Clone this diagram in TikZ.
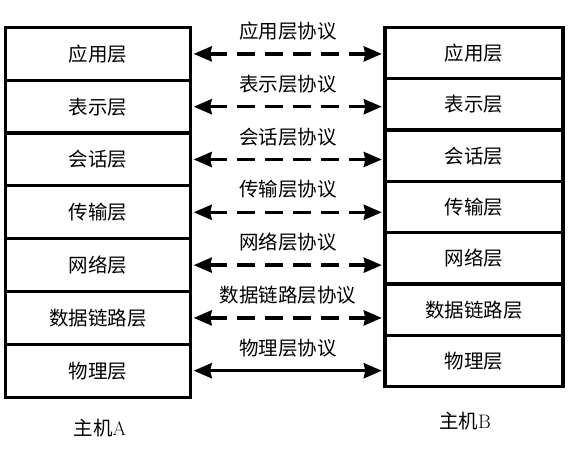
\documentclass[tikz,border=0pt]{standalone}
\usepackage{fontspec}
\newfontfamily\cjk{Noto Sans CJK SC}
\usetikzlibrary{arrows.meta}
\begin{document}
\begin{tikzpicture}[x=1pt,y=-1pt,
  lbox/.style={draw, line width=3.2pt, minimum width=185pt, minimum height=52.8pt, inner sep=0pt, font=\cjk\fontsize{19.5}{19.5}\selectfont},
  rbox/.style={draw, line width=3.2pt, minimum width=178pt, minimum height=51.3pt, inner sep=0pt, font=\cjk\fontsize{19.5}{19.5}\selectfont},
  proto/.style={line width=3.4pt, {Stealth[length=18pt,width=15pt,inset=1.5pt]}-{Stealth[length=18pt,width=15pt,inset=1.5pt]}},
  dsh/.style={dash pattern=on 18pt off 10pt},
  plabel/.style={midway, above=12pt, inner sep=0pt, font=\cjk\fontsize{19.5}{19.5}\selectfont},
  host/.style={inner sep=0pt, font=\fontsize{19.5}{19.5}\selectfont}]
\useasboundingbox (0,0) rectangle (569,462);
\foreach \t [count=\i] in {应用层,表示层,会话层,传输层,网络层,数据链路层,物理层}{
  \node[lbox] (L\i) at (98, {27.5+52.8*(\i-0.5)}) {\t};
  \node[rbox] (R\i) at (474, {27.5+51.3*(\i-0.5)}) {\t};
}
\foreach \t [count=\i] in {应用层协议,表示层协议,会话层协议,传输层协议,网络层协议,数据链路层协议}{
  \draw[proto,dsh] ([xshift=1.6pt]L\i.east) -- ([xshift=-1.6pt]L\i.east -| R\i.west) node[plabel] {\t};
}
\draw[proto] ([xshift=1.6pt]L7.east) -- ([xshift=-1.6pt]L7.east -| R7.west) node[plabel] {物理层协议};
\node[host] (hA) at (100,428) {{\cjk 主机}A};
\node[host] (hB) at (465,421) {{\cjk 主机}B};
\end{tikzpicture}
\end{document}
